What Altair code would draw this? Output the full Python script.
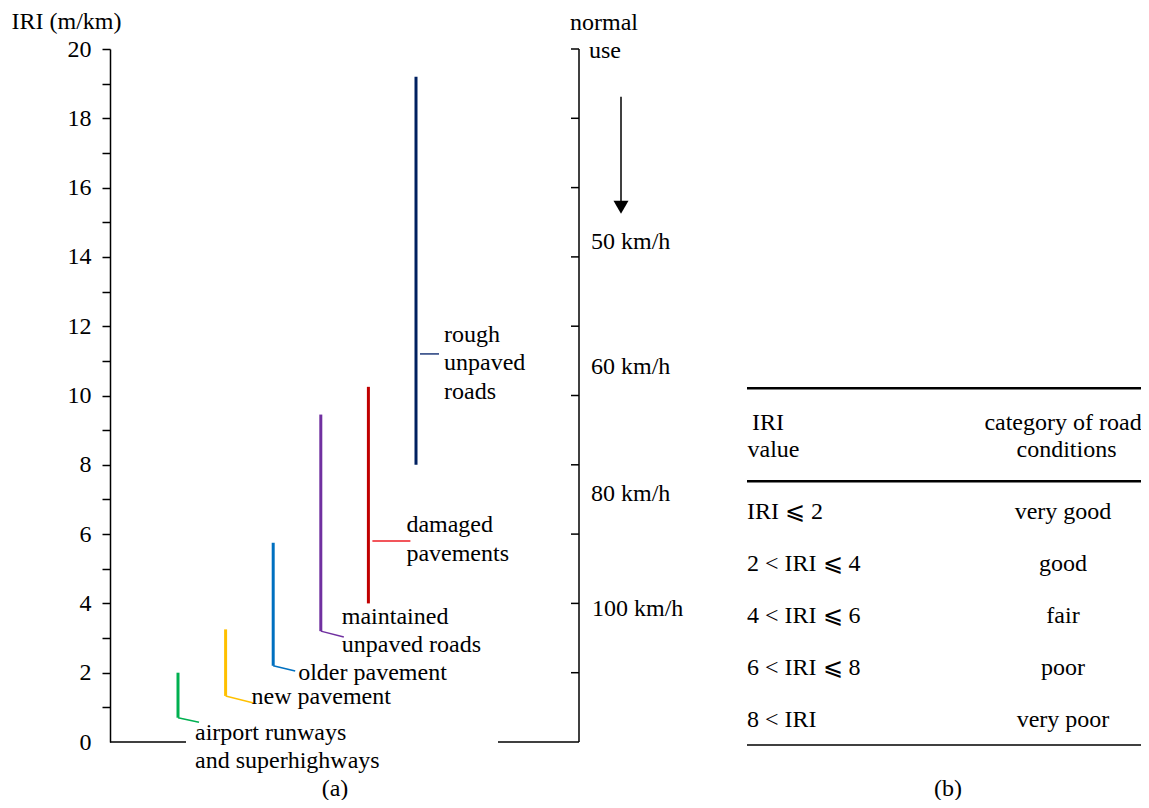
import altair as alt
import pandas as pd

# ---------------- data ----------------
categories = ["airport runways\nand superhighways", "new pavement", "older pavement",
              "maintained\nunpaved roads", "damaged\npavements", "rough\nunpaved\nroads"]
iri_low = [0.70, 1.33, 2.20, 3.20, 4.00, 8.00]
iri_high = [2.00, 3.25, 5.75, 9.45, 10.25, 19.20]
leader_from = [0.70, 1.33, 2.20, 3.20, 5.80, 11.20]
leader_to = [0.57, 1.12, 2.05, 3.03, 5.80, 11.20]
label_iri = [0.26, 1.30, 2.00, 3.62, 6.25, 11.76]

iri_ticks = list(range(0, 21))
speed_ticks = [2, 4, 6, 8, 10, 12, 14, 16, 18, 20]
speed_labels = ["normal", "use", "50 km/h", "60 km/h", "80 km/h", "100 km/h"]
speed_iri = [20.75, 19.94, 14.42, 10.83, 7.16, 3.84]
arrow_iri = [18.62, 15.60, 15.43]

table_header = ["IRI", "value", "category of road", "conditions"]
table_ranges = ["IRI \u2a7d 2", "2 < IRI \u2a7d 4", "4 < IRI \u2a7d 6", "6 < IRI \u2a7d 8", "8 < IRI"]
table_cats = ["very good", "good", "fair", "poor", "very poor"]
panel_captions = ["(a)", "(b)"]

# ---------------- layout / style ----------------
FONT = "Liberation Serif"
FS = 24
colors = ["#00b050", "#ffc000", "#0070c0", "#7030a0", "#c00000", "#002060"]
leader_colors = ["#00b050", "#ffc000", "#0070c0", "#7030a0", "#ee1c24", "#1f3a7a"]

X_LEFT, X_RIGHT = 110, 579
BAR0, BAR_STEP = 178, 47.6
leader_dx0 = [0, 0, 0, 0, 4, 4]
leader_dx1 = [21, 29, 22, 23, 42, 23]
label_dx = [17, 26, 25, 21, 38, 28]
TABLE_X = [747, 1141]

# table rows are placed on the IRI scale: row k -> T0 - k * TSTEP
T0, TSTEP = 6.64, 1.5007
t_header_rows = [-1.71, -1.2, -1.71, -1.2]
t_rule_rows = [-2.38, -0.59, 4.48]
CAPTION_IRI = -1.36


def trow(k):
    return T0 - k * TSTEP


xscale = alt.Scale(domain=[X_LEFT, X_RIGHT], nice=False, zero=False)
yscale = alt.Scale(domain=[0, 20], nice=False, zero=False)

yaxis = alt.Axis(
    orient="left",
    values=iri_ticks,
    labelExpr="datum.value % 2 === 0 ? datum.label : ''",
    tickSize=8, tickWidth=1.5, domainWidth=1.5, domainColor="black",
    tickColor={"condition": {"test": "datum.value === 0", "value": "transparent"}, "value": "black"},
    labelFont=FONT, labelFontSize=FS, labelColor="black", labelPadding=11,
    labelFlush=False, labelOverlap=False, grid=False,
    title="IRI (m/km)", titleAngle=0, titleAlign="left", titleBaseline="middle",
    titleX=-99, titleY=-28, titleFont=FONT, titleFontSize=FS, titleFontWeight="normal",
    titleColor="black",
)


def X(f):
    return alt.X(f, type="quantitative", scale=xscale, axis=None)


def Y(f):
    return alt.Y(f, type="quantitative", scale=yscale, axis=yaxis)


def text_mark(df, align="left", **kw):
    return alt.Chart(df).mark_text(font=FONT, fontSize=FS, color="black", align=align,
                                   baseline="middle", **kw)


n = len(categories)
bx = [BAR0 + BAR_STEP * i for i in range(n)]

bars_df = pd.DataFrame({"category": categories, "low": iri_low, "high": iri_high,
                        "x": bx, "color": colors})
leader_df = pd.DataFrame({"x1": [b + d for b, d in zip(bx, leader_dx0)],
                          "x2": [b + d for b, d in zip(bx, leader_dx1)],
                          "y1": leader_from, "y2": leader_to, "color": leader_colors})
label_df = pd.DataFrame({"text": categories, "x": [b + d for b, d in zip(bx, label_dx)],
                         "y": label_iri})

bars = alt.Chart(bars_df).mark_rule(strokeWidth=3).encode(
    x=X("x"), y=Y("low"), y2="high", color=alt.Color("color:N", scale=None))

leaders = alt.Chart(leader_df).mark_rule(strokeWidth=1.5).encode(
    x=X("x1"), x2="x2", y=Y("y1"), y2="y2", color=alt.Color("color:N", scale=None))

labels = text_mark(label_df, lineBreak="\n", lineHeight=28.5).encode(
    x=X("x"), y=Y("y"), text="text:N")

base_df = pd.DataFrame({"x1": [X_LEFT, 498], "x2": [186, X_RIGHT], "y": [0, 0]})
baselines = alt.Chart(base_df).mark_rule(strokeWidth=1.5, color="black").encode(
    x=X("x1"), x2="x2", y=Y("y"))

raxis_df = pd.DataFrame({"x": [X_RIGHT], "y": [0], "y2": [20]})
raxis = alt.Chart(raxis_df).mark_rule(strokeWidth=1.5, color="black").encode(
    x=X("x"), y=Y("y"), y2="y2")

rticks_df = pd.DataFrame({"y": speed_ticks, "x1": [X_RIGHT - 8] * len(speed_ticks),
                          "x2": [X_RIGHT] * len(speed_ticks)})
rticks = alt.Chart(rticks_df).mark_rule(strokeWidth=1.5, color="black").encode(
    x=X("x1"), x2="x2", y=Y("y"))

speed_df = pd.DataFrame({"text": speed_labels, "y": speed_iri,
                         "x": [570, 589, 591, 591, 591, 592]})
speeds = text_mark(speed_df).encode(x=X("x"), y=Y("y"), text="text:N")

arrow_line_df = pd.DataFrame({"x": [621], "y": [arrow_iri[0]], "y2": [arrow_iri[1]]})
arrow_line = alt.Chart(arrow_line_df).mark_rule(strokeWidth=1.5, color="black").encode(
    x=X("x"), y=Y("y"), y2="y2")
arrow_head_df = pd.DataFrame({"x": [621], "y": [arrow_iri[2]]})
arrow_head = alt.Chart(arrow_head_df).mark_point(
    shape="triangle-down", filled=True, size=225, color="black", opacity=1, strokeWidth=0
).encode(x=X("x"), y=Y("y"))

cap_df = pd.DataFrame({"text": panel_captions, "x": [335, 948],
                       "y": [CAPTION_IRI, CAPTION_IRI]})
captions = text_mark(cap_df, align="center").encode(x=X("x"), y=Y("y"), text="text:N")

# ---------------- table ----------------
trule_df = pd.DataFrame({"x1": [TABLE_X[0]] * 3, "x2": [TABLE_X[1]] * 3,
                         "y": [trow(k) for k in t_rule_rows], "w": [2.5, 2.5, 1.5]})
trules = alt.Chart(trule_df).mark_rule(color="black").encode(
    x=X("x1"), x2="x2", y=Y("y"), strokeWidth=alt.StrokeWidth("w:Q", scale=None))

thead_df = pd.DataFrame({"text": table_header, "x": [768, 773.5, 1063, 1066.5],
                         "y": [trow(k) for k in t_header_rows]})
thead = text_mark(thead_df, align="center").encode(x=X("x"), y=Y("y"), text="text:N")

tleft_df = pd.DataFrame({"text": table_ranges,
                         "y": [trow(k) for k in range(len(table_ranges))],
                         "x": [TABLE_X[0]] * len(table_ranges)})
tleft = text_mark(tleft_df).encode(x=X("x"), y=Y("y"), text="text:N")

tright_df = pd.DataFrame({"text": table_cats,
                          "y": [trow(k) for k in range(len(table_cats))],
                          "x": [1063] * len(table_cats)})
tright = text_mark(tright_df, align="center").encode(x=X("x"), y=Y("y"), text="text:N")

chart = alt.layer(bars, leaders, labels, baselines, raxis, rticks, speeds,
                  arrow_line, arrow_head, captions, trules, thead, tleft, tright).properties(
    width=X_RIGHT - X_LEFT, height=693,
    padding={"left": 102, "top": 41, "right": 562, "bottom": 58},
    autosize=alt.AutoSizeParams(type="none"),
).configure_view(strokeWidth=0)

chart.save("out.html", embed_options={"renderer": "svg", "actions": False})
